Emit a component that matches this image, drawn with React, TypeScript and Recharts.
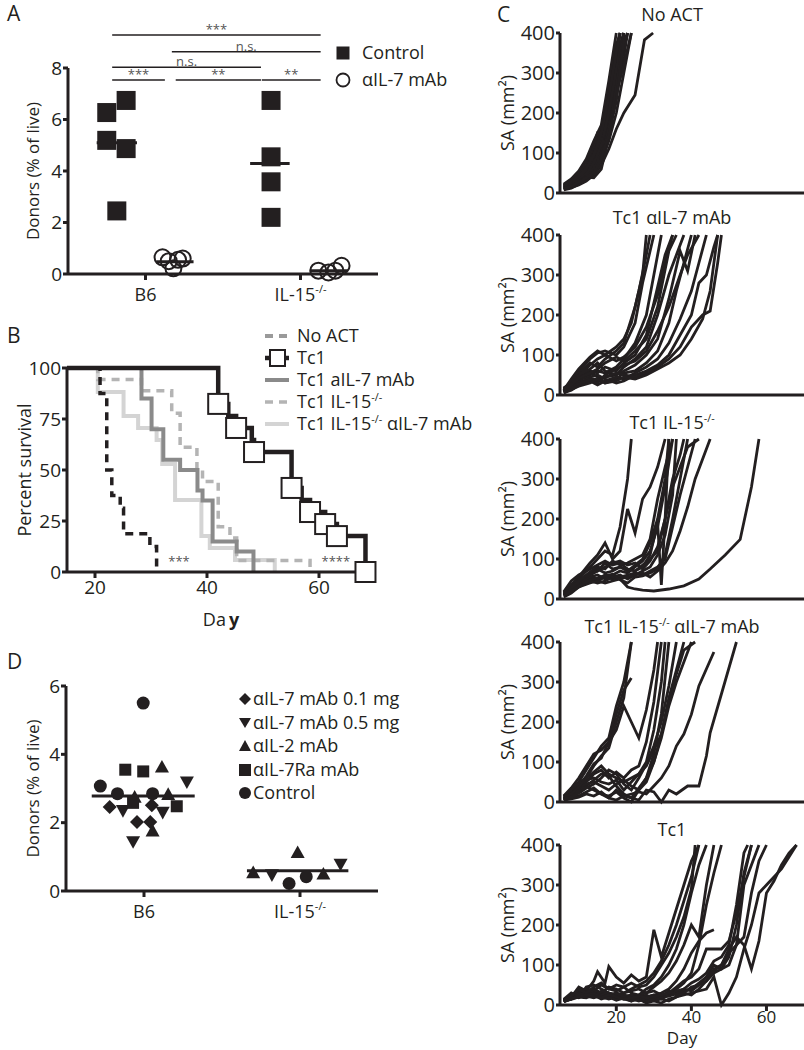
import React from 'react';
import { LineChart, Line, ScatterChart, Scatter, XAxis, YAxis, ReferenceLine, ReferenceDot } from 'recharts';

const INK = '#231f20';
const FONT = "'Open Sans', sans-serif";

// ---------- panel A ----------
// x is the jittered group position: B6 = 1, IL-15-/- = 3
const groupTicks = [1, 3];
const groupNames = ['B6', 'IL-15'];
const groupSups = ['', '-/-'];

const aControl = [
  { g: 0.5, v: 6.27 }, { g: 0.75, v: 6.74 }, { g: 0.5, v: 5.19 }, { g: 0.75, v: 4.87 }, { g: 0.63, v: 2.45 },
  { g: 2.62, v: 6.74 }, { g: 2.62, v: 4.55 }, { g: 2.62, v: 3.58 }, { g: 2.62, v: 2.2 },
];
const aAntiIL7 = [
  { g: 1.22, v: 0.65 }, { g: 1.36, v: 0.22 }, { g: 1.48, v: 0.6 }, { g: 1.3, v: 0.5 }, { g: 1.42, v: 0.55 },
  { g: 3.23, v: 0.13 }, { g: 3.36, v: 0.06 }, { g: 3.45, v: 0.13 }, { g: 3.53, v: 0.32 },
];
const aMeans = [
  { from: 0.37, to: 0.89, v: 5.1 },
  { from: 1.14, to: 1.62, v: 0.48 },
  { from: 2.35, to: 2.86, v: 4.29 },
  { from: 3.12, to: 3.61, v: 0.13 },
];
const aSig = [
  { from: 0.57, to: 3.26, v: 9.28, text: '***' },
  { from: 1.34, to: 3.26, v: 8.63, text: 'n.s.' },
  { from: 0.57, to: 2.49, v: 8.03, text: 'n.s.' },
  { from: 0.57, to: 1.25, v: 7.53, text: '***' },
  { from: 1.39, to: 2.49, v: 7.53, text: '**' },
  { from: 2.5, to: 3.26, v: 7.53, text: '**' },
];

// ---------- panel B (Kaplan-Meier steps) ----------
const survNoAct = [
  { day: 15, pct: 100 }, { day: 20.9, pct: 87.5 }, { day: 22.1, pct: 50 }, { day: 23, pct: 37.5 },
  { day: 24.5, pct: 31.25 }, { day: 25.1, pct: 18.75 }, { day: 29.8, pct: 12.5 }, { day: 31, pct: 0 },
];
const survTc1 = [
  { day: 15, pct: 100 }, { day: 42, pct: 82.4, mark: true }, { day: 43.8, pct: 76.5 }, { day: 45.2, pct: 70.6, mark: true },
  { day: 48, pct: 64.7 }, { day: 48.4, pct: 58.8, mark: true }, { day: 55.1, pct: 41.2, mark: true }, { day: 56.9, pct: 35.3 },
  { day: 58.4, pct: 29.4, mark: true }, { day: 61.1, pct: 23.5, mark: true }, { day: 63.2, pct: 17.6, mark: true },
  { day: 68.3, pct: 0, mark: true },
];
const survIL7 = [
  { day: 15, pct: 100 }, { day: 28.3, pct: 85 }, { day: 30.1, pct: 70 }, { day: 32.2, pct: 55 }, { day: 35.2, pct: 50 },
  { day: 38.3, pct: 40 }, { day: 39.2, pct: 35 }, { day: 41, pct: 15 }, { day: 45.3, pct: 10 }, { day: 48.3, pct: 0 },
];
const survIL15 = [
  { day: 15, pct: 100 }, { day: 20.5, pct: 94.4 }, { day: 28.3, pct: 88.9 }, { day: 33.7, pct: 77.8 }, { day: 35.2, pct: 61.1 },
  { day: 38.2, pct: 50 }, { day: 39.2, pct: 44.4 }, { day: 42, pct: 22.2 }, { day: 44.1, pct: 16.7 }, { day: 45.3, pct: 5.6 },
  { day: 58.4, pct: 0 },
];
const survIL15IL7 = [
  { day: 15, pct: 100 }, { day: 20.5, pct: 88.2 }, { day: 25.1, pct: 76.5 }, { day: 27.7, pct: 70.6 }, { day: 31, pct: 64.7 },
  { day: 32, pct: 52.9 }, { day: 34.3, pct: 35.3 }, { day: 39, pct: 17.6 }, { day: 40.5, pct: 11.8 }, { day: 45, pct: 5.9 },
  { day: 52.1, pct: 0 },
];
const survNames = ['No ACT', 'Tc1', 'Tc1 aIL-7 mAb', 'Tc1 IL-15', 'Tc1 IL-15'];

// ---------- panel C (tumour surface area, [day, mm2]) ----------
const noActCurves = [
  [[6, 15], [8, 20], [10, 35], [12, 55], [14, 80], [16, 130], [18, 220], [20, 330], [21, 400]],
  [[6, 10], [8, 15], [10, 25], [12, 45], [14, 70], [16, 110], [18, 180], [20, 290], [22, 400]],
  [[6, 20], [8, 30], [10, 45], [12, 70], [14, 110], [16, 160], [18, 260], [20, 370], [21, 400]],
  [[6, 12], [8, 18], [10, 28], [12, 40], [14, 55], [16, 95], [18, 150], [20, 240], [22, 340], [23, 400]],
  [[6, 18], [8, 25], [10, 40], [12, 60], [14, 100], [16, 140], [17, 175], [19, 270], [21, 400]],
  [[6, 8], [8, 12], [10, 22], [12, 35], [14, 50], [16, 80], [18, 130], [20, 200], [22, 300], [24, 400]],
  [[6, 10], [8, 14], [10, 20], [12, 30], [14, 45], [16, 70], [18, 110], [20, 160], [22, 200], [25, 245], [27.5, 383], [29.8, 400]],
  [[6, 14], [8, 22], [10, 32], [12, 40], [14, 38], [16, 60], [18, 140], [20, 260], [22, 400]],
  [[6, 16], [8, 28], [10, 50], [12, 80], [14, 120], [15, 150], [17, 140], [19, 230], [21, 370], [22, 400]],
  [[6, 20], [8, 26], [10, 38], [12, 50], [14, 65], [16, 100], [18, 170], [20, 280], [22, 360], [23, 400]],
  [[6, 12], [8, 20], [10, 30], [12, 48], [14, 75], [16, 120], [18, 200], [20, 310], [22, 400]],
  [[6, 9], [8, 16], [10, 26], [12, 42], [14, 62], [16, 90], [18, 160], [20, 250], [22, 320], [24, 400]],
  [[6, 22], [8, 35], [10, 55], [12, 85], [14, 130], [16, 170], [18, 280], [20, 400]],
  [[6, 14], [8, 24], [10, 36], [12, 58], [14, 90], [16, 140], [17, 120], [19, 200], [21, 330], [22, 400]],
  [[6, 18], [8, 30], [10, 42], [12, 62], [14, 95], [16, 150], [18, 240], [20, 350], [21, 400]],
  [[6, 11], [8, 17], [10, 27], [12, 38], [14, 52], [16, 85], [18, 145], [20, 230], [22, 380], [23, 400]],
];
const il7Curves = [
  [[6, 10], [8, 30], [10, 55], [13, 80], [15, 70], [17, 90], [20, 110], [22, 130], [25, 220], [27, 300], [28, 400]],
  [[6, 15], [8, 35], [10, 60], [13, 90], [15, 105], [17, 110], [20, 100], [22, 120], [25, 180], [27, 280], [30, 400]],
  [[6, 8], [8, 20], [10, 40], [13, 50], [15, 60], [17, 55], [20, 70], [22, 90], [25, 130], [28, 200], [30, 300], [32, 400]],
  [[6, 12], [8, 25], [10, 45], [13, 60], [15, 55], [17, 70], [20, 60], [22, 80], [25, 100], [28, 150], [31, 270], [33, 350], [35, 400]],
  [[6, 5], [8, 15], [10, 30], [13, 40], [15, 35], [17, 45], [20, 50], [22, 70], [25, 90], [28, 120], [31, 200], [34, 300], [36, 350], [38, 400]],
  [[6, 10], [8, 22], [10, 35], [13, 55], [15, 45], [17, 30], [20, 40], [22, 55], [25, 60], [28, 80], [31, 110], [34, 180], [36, 260], [38, 330], [40, 400]],
  [[6, 18], [8, 28], [10, 50], [13, 65], [15, 80], [17, 60], [20, 50], [22, 60], [25, 75], [28, 100], [31, 140], [34, 240], [37, 360], [39, 310], [41, 400]],
  [[6, 6], [8, 12], [10, 25], [13, 35], [15, 25], [17, 35], [20, 45], [22, 40], [25, 55], [28, 70], [31, 90], [34, 130], [37, 190], [40, 260], [42, 330], [44, 400]],
  [[6, 14], [8, 24], [10, 40], [13, 45], [15, 50], [17, 40], [20, 30], [22, 35], [25, 50], [28, 60], [31, 75], [34, 100], [37, 150], [40, 200], [42, 280], [44, 300], [46, 370], [47, 400]],
  [[6, 10], [8, 20], [10, 32], [13, 42], [15, 38], [17, 45], [20, 55], [22, 50], [25, 45], [28, 55], [31, 70], [34, 90], [37, 120], [40, 170], [43, 200], [45, 210], [47, 330], [48, 400]],
  [[6, 16], [8, 30], [10, 48], [13, 75], [15, 90], [17, 100], [20, 85], [22, 95], [25, 120], [28, 170], [31, 250], [33, 330], [35, 400]],
  [[6, 8], [8, 18], [10, 28], [13, 38], [15, 30], [17, 50], [20, 65], [22, 75], [25, 85], [28, 110], [31, 160], [34, 220], [37, 300], [39, 350], [42, 400]],
  [[6, 12], [8, 40], [10, 65], [13, 95], [15, 110], [17, 100], [20, 120], [22, 140], [24, 180], [26, 260], [28, 350], [29, 400]],
  [[6, 9], [8, 26], [10, 42], [13, 55], [15, 65], [17, 80], [20, 95], [22, 85], [25, 110], [28, 140], [31, 220], [34, 360], [36, 400]],
  [[6, 7], [8, 14], [10, 22], [13, 30], [15, 40], [17, 30], [20, 35], [22, 45], [25, 40], [28, 50], [31, 65], [34, 80], [37, 100], [40, 140], [43, 190], [45, 260], [47, 400]],
];
const il15Curves = [
  [[6, 10], [8, 30], [10, 50], [13, 80], [15, 100], [17, 120], [19, 110], [21, 180], [23, 300], [24, 400]],
  [[6, 15], [8, 35], [10, 55], [13, 90], [15, 110], [17, 140], [19, 100], [21, 120], [23, 225], [25, 165], [27, 250], [29, 280], [31, 330], [33, 400]],
  [[6, 8], [8, 20], [10, 35], [13, 55], [15, 60], [17, 50], [19, 60], [21, 70], [23, 65], [25, 80], [27, 95], [29, 120], [31, 180], [33, 280], [35, 400]],
  [[6, 12], [8, 25], [10, 40], [13, 60], [15, 70], [17, 90], [19, 75], [21, 80], [23, 70], [25, 85], [27, 100], [29, 140], [31, 200], [33, 300], [34, 400]],
  [[6, 5], [8, 15], [10, 30], [13, 45], [15, 40], [17, 45], [19, 55], [21, 60], [23, 50], [25, 60], [27, 70], [29, 80], [31, 110], [33, 160], [35, 260], [36, 400]],
  [[6, 18], [8, 45], [10, 60], [13, 75], [15, 85], [17, 95], [19, 85], [21, 90], [23, 75], [25, 70], [27, 85], [29, 100], [31, 120], [33, 200], [35, 300], [37, 360], [38, 400]],
  [[6, 10], [8, 22], [10, 38], [13, 50], [15, 45], [17, 55], [19, 50], [21, 55], [23, 60], [25, 65], [27, 60], [29, 70], [31, 80], [33, 100], [35, 180], [37, 260], [39, 330], [41, 400]],
  [[6, 14], [8, 28], [10, 45], [13, 65], [15, 70], [17, 80], [19, 90], [21, 95], [23, 85], [25, 90], [27, 75], [29, 95], [31, 130], [33, 200], [35, 280], [37, 330], [39, 380], [42, 400]],
  [[6, 8], [8, 18], [10, 30], [13, 40], [15, 45], [17, 40], [19, 45], [21, 50], [23, 55], [25, 60], [27, 65], [29, 55], [31, 70], [33, 90], [35, 120], [37, 170], [39, 230], [41, 300], [43, 350], [45, 400]],
  [[6, 12], [8, 25], [10, 40], [13, 55], [15, 50], [17, 60], [19, 55], [21, 50], [23, 30], [25, 25], [27, 22], [30, 20], [34, 25], [38, 33], [42, 50], [45, 75], [49, 110], [53, 149], [56, 280], [58, 400]],
  [[6, 16], [8, 30], [10, 48], [13, 60], [15, 75], [17, 65], [19, 70], [21, 80], [23, 75], [25, 70], [27, 80], [29, 110], [31, 190], [32, 35], [33, 200], [34, 400]],
  [[6, 11], [8, 26], [10, 44], [13, 68], [15, 80], [17, 75], [19, 95], [21, 85], [23, 90], [25, 100], [27, 110], [29, 150], [31, 250], [33, 330], [35, 400]],
  [[6, 9], [8, 20], [10, 32], [13, 48], [15, 52], [17, 58], [19, 62], [21, 48], [23, 40], [25, 55], [27, 58], [29, 65], [31, 75], [33, 110], [35, 200], [37, 300], [39, 400]],
];
const il15Il7Curves = [
  [[6, 10], [8, 25], [10, 50], [12, 80], [14, 110], [16, 140], [18, 160], [20, 240], [22, 300], [24, 400]],
  [[6, 15], [8, 35], [10, 60], [12, 90], [14, 120], [16, 130], [18, 150], [20, 220], [22, 280], [24, 310]],
  [[6, 5], [8, 20], [10, 40], [12, 65], [14, 95], [16, 110], [18, 150], [20, 180], [22, 240], [24, 200], [26, 160], [28, 230], [30, 330], [31, 400]],
  [[6, 8], [8, 18], [10, 30], [12, 50], [14, 70], [16, 80], [18, 60], [20, 75], [22, 60], [24, 80], [26, 90], [28, 150], [30, 250], [32, 400]],
  [[6, 12], [8, 22], [10, 35], [12, 55], [14, 60], [16, 50], [18, 45], [20, 55], [22, 30], [24, 50], [26, 70], [28, 100], [30, 180], [32, 300], [33, 400]],
  [[6, 6], [8, 14], [10, 25], [12, 40], [14, 55], [16, 70], [18, 65], [20, 40], [22, 20], [24, 10], [26, 35], [28, 60], [30, 120], [32, 220], [34, 400]],
  [[6, 14], [8, 30], [10, 48], [12, 60], [14, 75], [16, 90], [18, 70], [20, 60], [22, 50], [24, 60], [26, 70], [28, 90], [30, 130], [32, 170], [34, 260], [36, 330], [38, 400]],
  [[6, 10], [8, 20], [10, 35], [12, 45], [14, 50], [16, 40], [18, 30], [20, 45], [22, 55], [24, 40], [26, 30], [28, 50], [30, 100], [32, 160], [34, 240], [36, 300], [38, 350], [40, 400]],
  [[6, 8], [8, 16], [10, 28], [12, 38], [14, 30], [16, 20], [18, 15], [20, 25], [22, 10], [24, 0], [26, 30], [28, 60], [30, 100], [32, 170], [34, 250], [36, 320], [38, 380], [41, 400]],
  [[6, 5], [8, 10], [10, 15], [12, 25], [14, 35], [16, 20], [18, 10], [20, 30], [22, 15], [24, 20], [26, 25], [28, 20], [30, 40], [32, 60], [34, 90], [36, 140], [38, 170], [40, 219], [42, 290], [46, 375]],
  [[6, 5], [8, 8], [10, 12], [12, 20], [14, 15], [16, 25], [18, 10], [20, 5], [22, 15], [24, 10], [26, 5], [28, 30], [30, 25], [32, 0], [34, 30], [36, 20], [39, 40], [42, 40], [44, 115], [45, 173], [48, 270], [52, 400]],
  [[6, 9], [8, 20], [10, 38], [12, 60], [14, 90], [16, 115], [18, 135], [20, 200], [22, 260], [24, 400]],
  [[6, 7], [8, 12], [10, 22], [12, 35], [14, 45], [16, 60], [18, 80], [20, 70], [22, 45], [24, 30], [26, 60], [28, 95], [30, 140], [32, 200], [34, 290], [36, 400]],
];
const tc1Curves = [
  [[6, 12], [8, 20], [10, 45], [12, 35], [14, 60], [15, 83], [17, 55], [18, 96], [20, 70], [22, 55], [24, 75], [26, 60], [28, 70], [30, 188], [32, 120], [34, 180], [36, 240], [38, 300], [40, 360], [42, 400]],
  [[6, 10], [8, 25], [10, 35], [12, 30], [14, 40], [16, 30], [18, 45], [20, 40], [22, 30], [24, 40], [26, 50], [28, 60], [30, 80], [32, 110], [34, 150], [36, 200], [38, 260], [40, 320], [42, 400]],
  [[6, 8], [8, 18], [10, 25], [12, 40], [14, 35], [16, 50], [18, 40], [20, 35], [22, 45], [24, 30], [26, 25], [28, 40], [30, 50], [32, 70], [34, 100], [36, 140], [38, 200], [40, 280], [42, 350], [44, 400]],
  [[6, 14], [8, 30], [10, 20], [12, 45], [14, 50], [16, 40], [18, 30], [20, 25], [22, 30], [24, 35], [26, 40], [28, 30], [30, 45], [32, 60], [34, 80], [36, 110], [38, 150], [40, 200], [42, 170], [44, 300], [46, 400]],
  [[6, 10], [8, 15], [10, 30], [12, 25], [14, 20], [16, 30], [18, 25], [20, 15], [22, 20], [24, 25], [26, 15], [28, 20], [30, 25], [32, 30], [34, 40], [36, 60], [38, 90], [40, 130], [42, 160], [44, 180], [46, 188]],
  [[6, 12], [8, 22], [10, 18], [12, 28], [14, 35], [16, 25], [18, 20], [20, 30], [22, 25], [24, 20], [26, 25], [28, 30], [30, 35], [32, 25], [34, 30], [36, 40], [38, 55], [40, 80], [42, 150], [44, 250], [46, 330], [48, 400]],
  [[6, 8], [8, 15], [10, 25], [12, 20], [14, 30], [16, 25], [18, 20], [20, 15], [22, 20], [24, 15], [26, 10], [28, 15], [30, 20], [32, 15], [34, 25], [36, 30], [38, 40], [40, 35], [42, 50], [44, 70], [46, 100], [48, 90], [50, 120], [52, 200], [54, 330], [56, 400]],
  [[6, 10], [8, 20], [10, 30], [12, 25], [14, 20], [16, 35], [18, 30], [20, 25], [22, 20], [24, 25], [26, 20], [28, 25], [30, 15], [32, 20], [34, 30], [36, 35], [38, 40], [40, 55], [42, 65], [44, 80], [46, 110], [48, 120], [50, 150], [52, 250], [54, 380], [55, 400]],
  [[6, 12], [8, 18], [10, 22], [12, 30], [14, 25], [16, 20], [18, 15], [20, 20], [22, 15], [24, 10], [26, 20], [28, 15], [30, 10], [32, 5], [34, 15], [36, 20], [38, 30], [40, 25], [42, 40], [44, 60], [46, 90], [48, 100], [50, 130], [52, 150], [54, 170], [56, 280], [58, 360], [60, 400]],
  [[6, 10], [8, 14], [10, 20], [12, 18], [14, 25], [16, 15], [18, 20], [20, 12], [22, 18], [24, 10], [26, 15], [28, 5], [30, 10], [32, 15], [34, 10], [36, 20], [38, 25], [40, 30], [42, 35], [44, 40], [46, 70], [48, 0], [50, 30], [52, 70], [54, 140], [56, 200], [58, 280], [60, 300], [62, 320], [64, 340], [66, 370], [68, 400]],
  [[6, 14], [8, 20], [10, 28], [12, 22], [14, 18], [16, 24], [18, 30], [20, 22], [22, 25], [24, 18], [26, 22], [28, 20], [30, 25], [32, 20], [34, 22], [36, 28], [38, 35], [40, 40], [42, 55], [44, 70], [46, 85], [48, 100], [50, 140], [52, 170], [54, 150], [56, 90], [58, 160], [60, 280], [62, 310], [64, 350], [66, 380], [68, 400]],
  [[6, 8], [8, 16], [10, 24], [12, 30], [14, 28], [16, 20], [18, 25], [20, 30], [22, 20], [24, 15], [26, 20], [28, 10], [30, 15], [32, 20], [34, 35], [36, 25], [38, 30], [40, 45], [42, 50], [44, 60], [46, 80], [48, 90], [50, 100], [52, 150], [54, 300], [56, 350], [58, 400]],
  [[6, 11], [8, 22], [10, 40], [12, 30], [14, 45], [16, 55], [18, 40], [20, 50], [22, 45], [24, 55], [26, 45], [28, 50], [30, 70], [32, 100], [34, 130], [36, 170], [38, 220], [40, 290], [41, 400]],
  [[6, 9], [8, 16], [10, 20], [12, 26], [14, 22], [16, 18], [18, 26], [20, 20], [22, 14], [24, 18], [26, 22], [28, 18], [30, 20], [32, 25], [34, 30], [36, 45], [38, 60], [40, 70], [42, 90], [44, 140], [46, 140], [48, 140], [50, 160], [52, 230], [54, 320], [56, 400]],
];

// ---------- panel D ----------
const dLow = [{ g: 0.56, v: 2.46 }, { g: 1.1, v: 2.51 }, { g: 0.91, v: 2.02 }, { g: 1.08, v: 2.02 }];
const dHigh = [
  { g: 1.55, v: 3.19 }, { g: 0.73, v: 2.35 }, { g: 1.24, v: 2.3 }, { g: 0.86, v: 1.44 },
  { g: 3.52, v: 0.78 }, { g: 2.64, v: 0.47 },
];
const dIL2 = [
  { g: 1.23, v: 3.63 }, { g: 1.31, v: 2.83 }, { g: 0.88, v: 2.75 }, { g: 1.11, v: 1.76 },
  { g: 2.97, v: 1.13 }, { g: 2.4, v: 0.54 }, { g: 3.3, v: 0.5 },
];
const dIL7Ra = [{ g: 0.76, v: 3.55 }, { g: 0.99, v: 3.5 }, { g: 0.86, v: 2.58 }, { g: 1.42, v: 2.48 }];
const dControl = [
  { g: 0.99, v: 5.5 }, { g: 0.44, v: 3.07 }, { g: 0.66, v: 2.85 }, { g: 1.11, v: 2.85 },
  { g: 2.86, v: 0.22 }, { g: 3.08, v: 0.42 },
];
const dMeans = [
  { from: 0.33, to: 1.65, v: 2.78 },
  { from: 2.32, to: 3.62, v: 0.59 },
];
const dNames = ['αIL-7 mAb 0.1 mg', 'αIL-7 mAb 0.5 mg', 'αIL-2 mAb', 'αIL-7Ra mAb', 'Control'];

// ---------- shapes ----------
const sq = (s: number, fill = INK, stroke = 'none') => (p: any) =>
  <rect x={p.cx - s / 2} y={p.cy - s / 2} width={s} height={s} fill={fill} stroke={stroke} strokeWidth={2} />;
const circ = (r: number, open = false) => (p: any) =>
  <circle cx={p.cx} cy={p.cy} r={r} fill={open ? 'none' : INK} stroke={INK} strokeWidth={open ? 2 : 0} />;
const diamond = (s: number) => (p: any) =>
  <polygon points={`${p.cx},${p.cy - s} ${p.cx + s},${p.cy} ${p.cx},${p.cy + s} ${p.cx - s},${p.cy}`} fill={INK} />;
const triUp = (s: number) => (p: any) =>
  <polygon points={`${p.cx},${p.cy - s} ${p.cx + s},${p.cy + s * 0.8} ${p.cx - s},${p.cy + s * 0.8}`} fill={INK} />;
const triDown = (s: number) => (p: any) =>
  <polygon points={`${p.cx - s},${p.cy - s * 0.8} ${p.cx + s},${p.cy - s * 0.8} ${p.cx},${p.cy + s}`} fill={INK} />;

const GroupTick = (props: any) => {
  const { x, y, payload } = props;
  const i = groupTicks.indexOf(payload.value);
  return (
    <text x={x} y={y} dy={19} textAnchor="middle" fill={INK} fontSize={18}>
      {groupNames[i]}
      {groupSups[i] && <tspan dy={-8} fontSize={11}>{groupSups[i]}</tspan>}
    </text>
  );
};

const Tc1Dot = (p: any) =>
  p.payload.mark
    ? <rect key={`sq-${p.index}`} x={p.cx - 10} y={p.cy - 10} width={20} height={20} fill="#fff" stroke={INK} strokeWidth={2} />
    : <g key={`sq-${p.index}`} />;

const Txt = ({ x, cy, size = 18, center = false, children }: any) => (
  <div style={{
    position: 'absolute', left: x, top: cy - size * 0.53, fontSize: size, lineHeight: 1,
    whiteSpace: 'nowrap', transform: center ? 'translateX(-50%)' : undefined,
  }}>{children}</div>
);
const Sup = ({ children }: any) => <span style={{ fontSize: '0.6em', verticalAlign: 'super', lineHeight: 0 }}>{children}</span>;

const axisStyle = { stroke: INK, strokeWidth: 3 };
const tickStyle = { fill: INK, fontSize: 19 };

function PanelA() {
  return (
    <div style={{ position: 'absolute', left: 0, top: 0 }}>
      <ScatterChart width={400} height={310} margin={{ top: 68, right: 22, left: 20, bottom: 0 }}>
        <XAxis type="number" dataKey="g" domain={[0, 4]} ticks={groupTicks} tick={<GroupTick />} axisLine={axisStyle} tickLine={axisStyle} tickSize={6} height={36} />
        <YAxis type="number" dataKey="v" domain={[0, 8]} ticks={[0, 2, 4, 6, 8]} interval={0} tick={tickStyle} axisLine={axisStyle} tickLine={axisStyle} tickSize={5} tickMargin={1} width={48}
          label={{ value: 'Donors (% of live)', angle: -90, position: 'insideLeft', offset: 13, fill: INK, fontSize: 17, style: { textAnchor: 'middle' } }} />
        {aSig.map((s, i) => (
          <ReferenceLine key={`sig-${i}`} segment={[{ x: s.from, y: s.v }, { x: s.to, y: s.v }]} stroke={INK} strokeWidth={1.5} ifOverflow="visible"
            label={{ value: s.text, position: 'top', offset: 1, fill: '#555', fontSize: 13 }} />
        ))}
        <Scatter data={aControl} shape={sq(19)} isAnimationActive={false} />
        <Scatter data={aAntiIL7} shape={circ(8, true)} isAnimationActive={false} />
        {aMeans.map((m, i) => (
          <ReferenceLine key={`m-${i}`} segment={[{ x: m.from, y: m.v }, { x: m.to, y: m.v }]} stroke={INK} strokeWidth={3} />
        ))}
      </ScatterChart>
    </div>
  );
}

function PanelB() {
  return (
    <div style={{ position: 'absolute', left: 0, top: 290 }}>
      <LineChart width={400} height={340} margin={{ top: 78, right: 25, left: 10, bottom: 0 }}>
        <XAxis type="number" dataKey="day" domain={[15, 70]} ticks={[20, 40, 60]} tick={tickStyle} axisLine={axisStyle} tickLine={axisStyle} tickSize={6} tickMargin={3} height={58}
          label={(p: any) => (
            <text x={p.viewBox.x + p.viewBox.width / 2} y={p.viewBox.y + p.viewBox.height - 4} textAnchor="middle" fill={INK} fontSize={18}>
              Da<tspan dx={3} fontWeight="bold">y</tspan>
            </text>
          )} />
        <YAxis type="number" domain={[0, 100]} ticks={[0, 25, 50, 75, 100]} interval={0} tick={tickStyle} axisLine={axisStyle} tickLine={axisStyle} tickSize={5} tickMargin={1} width={57}
          label={{ value: 'Percent survival', angle: -90, position: 'insideLeft', offset: 15, fill: INK, fontSize: 18, style: { textAnchor: 'middle' } }} />
        <Line data={survIL15IL7} dataKey="pct" type="stepAfter" stroke="#d4d4d4" strokeWidth={4} dot={false} isAnimationActive={false} />
        <Line data={survIL15} dataKey="pct" type="stepAfter" stroke="#b4b4b4" strokeWidth={3.5} strokeDasharray="8 6" dot={false} isAnimationActive={false} />
        <Line data={survIL7} dataKey="pct" type="stepAfter" stroke="#8a8a8a" strokeWidth={4} dot={false} isAnimationActive={false} />
        <Line data={survNoAct} dataKey="pct" type="stepAfter" stroke={INK} strokeWidth={3.5} strokeDasharray="8 6" dot={false} isAnimationActive={false} />
        <Line data={survTc1} dataKey="pct" type="stepAfter" stroke={INK} strokeWidth={4.5} dot={Tc1Dot} isAnimationActive={false} />
        <ReferenceDot x={35} y={5} r={1} fill="none" stroke="none" label={{ value: '***', position: 'center', fill: '#555', fontSize: 13 }} />
        <ReferenceDot x={63} y={5} r={1} fill="none" stroke="none" label={{ value: '****', position: 'center', fill: '#555', fontSize: 13 }} />
      </LineChart>
    </div>
  );
}

function PanelD() {
  return (
    <div style={{ position: 'absolute', left: 0, top: 640 }}>
      <ScatterChart width={400} height={300} margin={{ top: 46, right: 22, left: 20, bottom: 0 }}>
        <XAxis type="number" dataKey="g" domain={[0, 4]} ticks={groupTicks} tick={<GroupTick />} axisLine={axisStyle} tickLine={axisStyle} tickSize={6} height={49} />
        <YAxis type="number" dataKey="v" domain={[0, 6]} ticks={[0, 2, 4, 6]} interval={0} tick={tickStyle} axisLine={axisStyle} tickLine={axisStyle} tickSize={5} tickMargin={1} width={46}
          label={{ value: 'Donors (% of live)', angle: -90, position: 'insideLeft', offset: 13, fill: INK, fontSize: 17, style: { textAnchor: 'middle' } }} />
        <Scatter data={dLow} shape={diamond(7)} isAnimationActive={false} />
        <Scatter data={dHigh} shape={triDown(7)} isAnimationActive={false} />
        <Scatter data={dIL2} shape={triUp(7)} isAnimationActive={false} />
        <Scatter data={dIL7Ra} shape={sq(12)} isAnimationActive={false} />
        <Scatter data={dControl} shape={circ(6.5)} isAnimationActive={false} />
        {dMeans.map((m, i) => (
          <ReferenceLine key={`dm-${i}`} segment={[{ x: m.from, y: m.v }, { x: m.to, y: m.v }]} stroke={INK} strokeWidth={3} />
        ))}
      </ScatterChart>
    </div>
  );
}

function CPanel({ curves, top, last }: { curves: number[][][]; top: number; last?: boolean }) {
  const xh = last ? 45 : 18;
  const mt = 16;
  return (
    <div style={{ position: 'absolute', left: 480, top: top - mt }}>
      <LineChart width={324} height={mt + 160 + xh} margin={{ top: mt, right: 0, left: 10, bottom: 0 }}>
        <XAxis type="number" dataKey="day" domain={[5, 70]} ticks={[20, 40, 60]} interval={0} tick={last ? { fill: INK, fontSize: 17 } : false}
          axisLine={axisStyle} tickLine={axisStyle} tickSize={6} tickMargin={0} height={xh}
          label={last ? { value: 'Day', position: 'insideBottom', offset: 6, fill: INK, fontSize: 17 } : undefined} />
        <YAxis type="number" domain={[0, 400]} ticks={[0, 100, 200, 300, 400]} interval={0} tick={{ fill: INK, fontSize: 20 }} axisLine={axisStyle} tickLine={axisStyle}
          tickSize={4} tickMargin={1} width={70}
          label={{ value: 'SA (mm²)', angle: -90, position: 'insideLeft', offset: 18, fill: INK, fontSize: 18, style: { textAnchor: 'middle' } }} />
        {curves.map((c, i) => (
          <Line key={i} data={c.map(([day, sa]) => ({ day, sa }))} dataKey="sa" type="linear" stroke={INK} strokeWidth={2.8}
            dot={false} isAnimationActive={false} />
        ))}
      </LineChart>
    </div>
  );
}

export default function App() {
  const legendRowsB = [336, 358, 380, 402, 424];
  const legendRowsD = [699, 722.5, 746, 769.5, 793];
  return (
    <div style={{ position: 'absolute', left: 0, top: 0, width: 804, height: 1050, background: '#fff', fontFamily: FONT, color: INK, overflow: 'hidden' }}>
      <PanelA />
      <PanelB />
      <PanelD />
      <CPanel curves={noActCurves} top={33} />
      <CPanel curves={il7Curves} top={235} />
      <CPanel curves={il15Curves} top={439} />
      <CPanel curves={il15Il7Curves} top={642} />
      <CPanel curves={tc1Curves} top={845} last />

      <Txt x={7} cy={14} size={21}>A</Txt>
      <Txt x={7} cy={336} size={21}>B</Txt>
      <Txt x={7} cy={662} size={21}>D</Txt>
      <Txt x={497} cy={15} size={21}>C</Txt>

      {/* panel A legend */}
      <svg style={{ position: 'absolute', left: 334, top: 44 }} width={20} height={46}>
        <rect x={2.5} y={2.5} width={13} height={13} fill={INK} />
        <circle cx={9} cy={36} r={6.5} fill="none" stroke={INK} strokeWidth={1.8} />
      </svg>
      <Txt x={362} cy={53}>Control</Txt>
      <Txt x={362} cy={80}>αIL-7 mAb</Txt>

      {/* panel B legend */}
      <svg style={{ position: 'absolute', left: 262, top: 326 }} width={34} height={108}>
        <line x1={3} y1={10} x2={27} y2={10} stroke="#9a9a9a" strokeWidth={4} strokeDasharray="8 6" />
        <line x1={3} y1={32} x2={27} y2={32} stroke={INK} strokeWidth={4.5} />
        <rect x={8} y={24} width={15} height={16} fill="#fff" stroke={INK} strokeWidth={2} />
        <line x1={3} y1={54} x2={27} y2={54} stroke="#8a8a8a" strokeWidth={4} />
        <line x1={3} y1={76} x2={27} y2={76} stroke="#b4b4b4" strokeWidth={3.5} strokeDasharray="8 6" />
        <line x1={3} y1={98} x2={27} y2={98} stroke="#d4d4d4" strokeWidth={4} />
      </svg>
      <Txt x={297} cy={legendRowsB[0]}>{survNames[0]}</Txt>
      <Txt x={297} cy={legendRowsB[1]}>{survNames[1]}</Txt>
      <Txt x={297} cy={legendRowsB[2]}>{survNames[2]}</Txt>
      <Txt x={297} cy={legendRowsB[3]}>{survNames[3]}<Sup>-/-</Sup></Txt>
      <Txt x={297} cy={legendRowsB[4]}>{survNames[4]}<Sup>-/-</Sup> αIL-7 mAb</Txt>

      {/* panel D legend */}
      <svg style={{ position: 'absolute', left: 236, top: 689 }} width={20} height={114}>
        <polygon points="9,4 15,10 9,16 3,10" fill={INK} />
        <polygon points="3,29 15,29 9,39" fill={INK} />
        <polygon points="9,51 15,62 3,62" fill={INK} />
        <rect x={3} y={75} width={12} height={12} fill={INK} />
        <circle cx={9} cy={104} r={6} fill={INK} />
      </svg>
      {dNames.map((n, i) => (
        <Txt key={n} x={253} cy={legendRowsD[i]}>{n}</Txt>
      ))}

      {/* panel C titles */}
      <Txt x={672} cy={15} center>No ACT</Txt>
      <Txt x={672} cy={218} center>Tc1 αIL-7 mAb</Txt>
      <Txt x={672} cy={423} center>Tc1 IL-15<Sup>-/-</Sup></Txt>
      <Txt x={672} cy={627} center>Tc1 IL-15<Sup>-/-</Sup> αIL-7 mAb</Txt>
      <Txt x={672} cy={830} center>Tc1</Txt>
    </div>
  );
}
